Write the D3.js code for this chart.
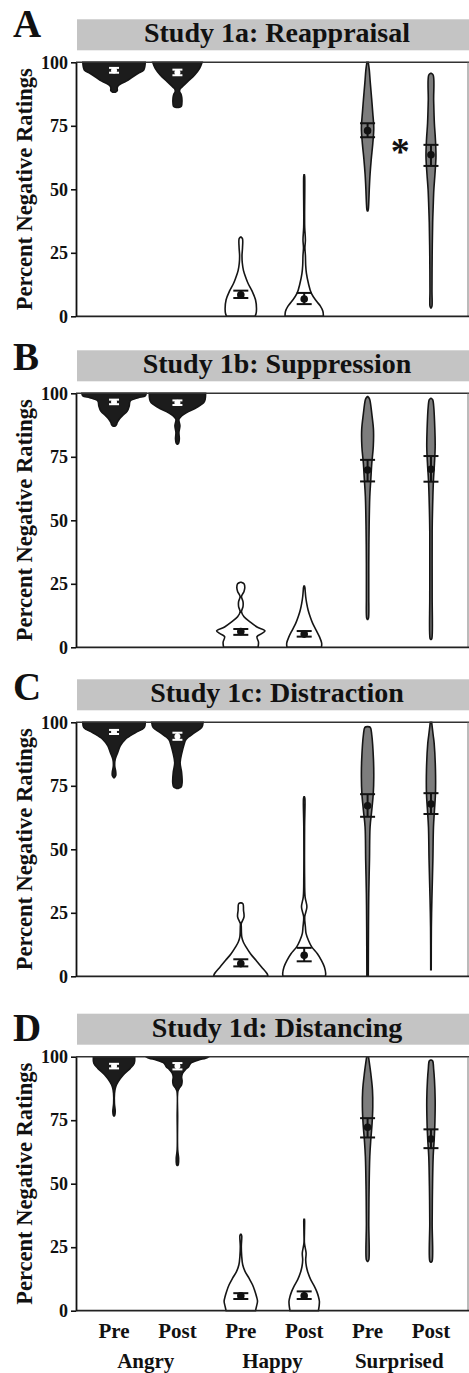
<!DOCTYPE html>
<html>
<head>
<meta charset="utf-8">
<script src="https://cdn.jsdelivr.net/npm/d3@7"></script>
<style>
  body { margin: 0; background: #fff; }
  svg { display: block; }
  text { font-family: "Liberation Serif", serif; font-weight: bold; fill: #111; }
</style>
</head>
<body>
<svg id="chart" width="469" height="1373"></svg>
<script>
const letters = ["A", "B", "C", "D"];
const titles = ["Study 1a: Reappraisal", "Study 1b: Suppression", "Study 1c: Distraction", "Study 1d: Distancing"];
const groups = ["Angry", "Happy", "Surprised"];
const times = ["Pre", "Post"];
const yTicks = [0, 25, 50, 75, 100];

// violin outlines: [percent, half width], top to bottom
// order: Angry Pre, Angry Post, Happy Pre, Happy Post, Surprised Pre, Surprised Post
const violinsA = [
  [[100,32],[97,30.5],[95.7,25],[94.4,20],[93,15],[91.7,8.5],[90.8,5],[90,4],[88.8,4],[88.2,2]],
  [[100,25.5],[97.6,23],[95,18],[92.4,11],[90.5,6],[89.5,3.5],[88.5,3],[87.3,4.5],[86,5.2],[83.5,5.2],[82.6,4.5],[82.2,2]],
  [[31.2,1.2],[30.5,2.5],[27,2.5],[24,2],[21,2.3],[18,3.5],[15,6],[13,8],[10,12],[6.5,15.5],[3,16.5],[1,16],[0,15]],
  [[55.7,0.8],[55,1.3],[40,1.2],[35,1.3],[30,2],[27,1.5],[24,2],[20,2.3],[17,3],[13,5],[9,8],[6,13],[4,17],[2,19.5],[0,20]],
  [[100,1.5],[97,2.5],[92,3.5],[86,4.8],[80,6],[74,7],[68,6],[62,4.5],[56,3.3],[50,2.5],[45,2],[42,1.5],[41.5,0.8]],
  [[95.7,1],[95,3],[85,3.5],[76,4.2],[70,5.2],[63,5.8],[56,4.8],[50,3.7],[43,3],[37,2.5],[24,2],[10,1.8],[4,1.8],[3.3,0.8]]
];
const violinsB = [
  [[100,33],[99,32],[98.3,25],[97,17],[95,16],[93,14],[91.1,9],[89.8,6],[88.5,4],[87.5,3],[87,1.5]],
  [[100,29],[97.5,28.5],[96.3,27],[94.4,20],[92.4,10],[91.1,5],[89.8,2.3],[87.2,3.3],[84.6,2.3],[82,2.7],[80.4,2],[80,1]],
  [[25.6,1.2],[25,4],[23.5,4.8],[22,4],[20,1.5],[18,3],[16,3],[14,1.5],[12,4],[10,10],[8,17],[6.5,25],[5.5,22],[4.2,17],[2,18.5],[0,18]],
  [[24.1,0.8],[23.5,1.5],[22.6,1.7],[19.9,2.3],[17.3,3.3],[14.7,4.7],[12.1,6.7],[9.4,9.3],[6.8,12.7],[4.2,16],[1.6,18.3],[0,18]],
  [[98.7,1],[98,2.5],[97,3.3],[92,5],[85.6,6.7],[79,6.5],[72.4,5],[65.9,4],[59.3,3],[46.2,2.3],[33,2],[20,2],[11.5,1.7],[11,0.8]],
  [[98,1],[97.5,2.5],[95,3.5],[85.6,4.7],[79,5],[72.4,4.3],[65.9,3.3],[59.3,2.7],[46,2],[20,2],[3.5,1.7],[3.1,0.8]]
];
const violinsC = [
  [[100,32],[97.9,31],[95.9,22],[93.3,12],[90.7,7],[88.1,4.5],[85.5,2],[82.8,1.5],[80.5,2.5],[79,2.5],[78.2,1.2]],
  [[100,26.5],[97.9,25],[95.9,18],[93.3,9.5],[90.7,7],[88.1,5.3],[84.1,3.5],[80.2,5],[76.3,5.5],[74.5,4.5],[74,2]],
  [[28.9,1.2],[28.5,3],[26,3.5],[23.4,4],[20.8,1.3],[19.4,1.3],[15.4,1.8],[13.5,3.3],[11.6,6],[8.9,10.5],[6.3,16],[3.7,21.5],[1.1,27],[0,28]],
  [[70.7,0.8],[70,1.5],[58.9,1.2],[39.2,1.2],[31.3,1.7],[27.3,3.5],[23.4,1.3],[19.4,2],[16.8,2.7],[14.2,5],[11.6,8.3],[8.9,14],[6.3,18],[3.7,21],[1.1,22.3],[0,22]],
  [[98.3,1],[98,3.5],[95,5],[85.2,6.7],[78.6,7],[72,6.5],[65.4,5],[58.8,3.3],[45.7,2.7],[32.5,2],[19.4,1.7],[0,1.5]],
  [[100,1.5],[95,3],[91.7,4],[81.2,5.3],[72,5.3],[65.4,4.3],[58.8,3.3],[45.7,2.7],[29.9,1.7],[19.4,1.2],[3,1],[2.6,0.5]]
];
const violinsD = [
  [[100,21.5],[97.4,21],[95.4,17],[92.8,10],[90.2,5],[88.2,2.5],[85.6,1.3],[81.7,1.2],[78.4,2],[77,1.5],[76.7,0.8]],
  [[100,32],[99.4,29],[98.7,22],[97.4,14],[96,12],[95,9],[93.5,6],[92,5],[90.5,5.5],[89,5],[87.8,3],[86.5,1.3],[76.5,1],[63.4,1],[60,2],[57.6,1.7],[57.2,0.8]],
  [[30.1,1],[29.5,1.7],[25.3,1.3],[21.4,1.7],[18.1,2.7],[15.5,5],[12.8,9],[10.2,12.5],[7.6,15],[5.6,16.5],[3.7,17.5],[1.7,16.5],[0,15.5]],
  [[36,0.8],[35.5,1.2],[30.5,1],[26.6,1],[22.7,2.7],[20,2.3],[17.4,3],[14.8,4.7],[12.2,7.3],[9.6,11],[7.6,13.3],[5.6,15],[3.7,16],[1.7,15.7],[0,15]],
  [[100,1.7],[93.4,4],[86.9,5.7],[80.3,6],[73.7,5.3],[67.2,4],[60.6,3],[47.6,2.3],[34.5,2],[20,2],[19.4,0.8]],
  [[98.7,1],[98.3,2.5],[95,3.5],[90.8,4.3],[83,5],[73.7,4.7],[67.2,4],[60.6,3],[47.6,2.3],[34.5,2],[19.6,2],[19.1,0.8]]
];

// means and confidence bounds, same order
const meansA  = [96.8, 96.0, 8.5, 6.8, 73.1, 63.6];
const ciHighA = [97.8, 97.1, 10.1, 9.2, 76.0, 67.5];
const ciLowA  = [95.9, 94.9, 7.2, 4.8, 70.5, 59.2];
const meansB  = [96.6, 96.3, 6.2, 5.2, 69.8, 70.1];
const ciHighB = [97.5, 97.2, 7.2, 6.4, 73.8, 75.3];
const ciLowB  = [95.7, 95.4, 4.9, 4.2, 65.3, 65.2];
const meansC  = [96.2, 94.4, 5.0, 8.3, 67.1, 67.8];
const ciHighC = [97.0, 95.9, 6.7, 11.2, 71.7, 72.1];
const ciLowC  = [95.4, 93.1, 3.9, 5.9, 62.8, 63.9];
const meansD  = [96.3, 96.3, 5.9, 5.9, 72.2, 67.6];
const ciHighD = [97.2, 97.5, 6.9, 7.6, 75.8, 71.4];
const ciLowD  = [95.4, 95.0, 4.6, 4.6, 68.2, 64.0];

// significance mark (panel A, between surprised pre and post)
const starPanel = 0;
const starValue = 66.8;

const panels = [
  {violins: violinsA, means: meansA, hi: ciHighA, lo: ciLowA},
  {violins: violinsB, means: meansB, hi: ciHighB, lo: ciLowB},
  {violins: violinsC, means: meansC, hi: ciHighC, lo: ciLowC},
  {violins: violinsD, means: meansD, hi: ciHighD, lo: ciLowD}
];

const plotTops = [62.3, 393.3, 722.3, 1056.7];
const letterDy = [-25.6, -23.5, -22.5, -16];
const plotH = 254;
const left = 76, right = 469;

const svg = d3.select("#chart");
const keys = d3.cross(groups, times, (g, t) => g + " " + t);
const x = d3.scalePoint().domain(keys).range([left, right]).padding(0.6);
// half widths were read at the outer edge of the outline, so pull them in by half a stroke
const w = d3.scaleLinear().domain([0, 35]).range([-0.8, 34.2]);
const hw = v => Math.max(0.25, w(v));

const fills = {Angry: "#1c1c1c", Happy: "#ffffff", Surprised: "#7d7d7d"};
const marks = {Angry: "#ffffff", Happy: "#111111", Surprised: "#111111"};

panels.forEach(function(p, i) {
  const top = plotTops[i];
  const y = d3.scaleLinear().domain([0, 100]).range([top + plotH, top]);
  const g = svg.append("g");

  // title bar
  g.append("rect")
    .attr("x", 77).attr("y", top - 43)
    .attr("width", right - 77).attr("height", 31)
    .attr("fill", "#c4c4c4");
  g.append("text")
    .attr("x", 277).attr("y", top - 20)
    .attr("text-anchor", "middle")
    .attr("font-size", 28)
    .text(titles[i]);
  g.append("text")
    .attr("x", 13).attr("y", top + letterDy[i])
    .attr("font-size", 39)
    .text(letters[i]);

  // violins
  keys.forEach(function(key, j) {
    const grp = key.split(" ")[0];
    const cx = x(key);
    const area = d3.area()
      .curve(d3.curveCatmullRom)
      .y(d => y(d[0]))
      .x0(d => cx - hw(d[1]))
      .x1(d => cx + hw(d[1]));
    g.append("path")
      .datum(p.violins[j])
      .attr("d", area)
      .attr("fill", fills[grp])
      .attr("stroke", "#151515")
      .attr("stroke-width", 1.6);
  });

  // means with intervals
  keys.forEach(function(key, j) {
    const grp = key.split(" ")[0];
    const cx = x(key);
    const col = marks[grp];
    const cap = grp == "Angry" ? 5 : 7.5;
    const eb = g.append("g").attr("stroke", col).attr("stroke-width", 2);
    eb.append("line").attr("x1", cx).attr("x2", cx).attr("y1", y(p.hi[j])).attr("y2", y(p.lo[j]));
    eb.append("line").attr("x1", cx - cap).attr("x2", cx + cap).attr("y1", y(p.hi[j])).attr("y2", y(p.hi[j]));
    eb.append("line").attr("x1", cx - cap).attr("x2", cx + cap).attr("y1", y(p.lo[j])).attr("y2", y(p.lo[j]));
    g.append("circle")
      .attr("cx", cx).attr("cy", y(p.means[j]))
      .attr("r", grp == "Angry" ? 3 : 3.8)
      .attr("fill", col);
  });

  // frame
  g.append("line").attr("x1", left).attr("x2", right).attr("y1", top).attr("y2", top)
    .attr("stroke", "#333").attr("stroke-width", 1.4);
  g.append("line").attr("x1", right - 1).attr("x2", right - 1).attr("y1", top).attr("y2", top + plotH)
    .attr("stroke", "#777").attr("stroke-width", 1);
  g.append("line").attr("x1", left).attr("x2", right).attr("y1", top + plotH).attr("y2", top + plotH)
    .attr("stroke", "#222").attr("stroke-width", 1.8);

  // y axis
  const ax = g.append("g")
    .attr("transform", "translate(" + left + ",0)")
    .call(d3.axisLeft(y).tickValues(yTicks).tickSize(5).tickPadding(3).tickSizeOuter(0));
  ax.attr("font-family", null).attr("font-size", 18).attr("color", "#111");
  ax.select(".domain").attr("stroke-width", 1.8);
  ax.selectAll(".tick line").attr("stroke-width", 1.6);

  g.append("text")
    .attr("transform", "translate(31.5," + (top + plotH / 2) + ") rotate(-90)")
    .attr("text-anchor", "middle")
    .attr("font-size", 22.5)
    .text("Percent Negative Ratings");

  if (i == starPanel) {
    g.append("text")
      .attr("x", (x("Surprised Pre") + x("Surprised Post")) / 2 + 1)
      .attr("y", y(starValue) + 17)
      .attr("text-anchor", "middle")
      .attr("font-size", 38)
      .text("*");
  }

  // category labels under the last panel
  if (i == panels.length - 1) {
    g.selectAll(".time")
      .data(keys)
      .enter().append("text")
      .attr("x", d => x(d))
      .attr("y", top + plotH + 27)
      .attr("text-anchor", "middle")
      .attr("font-size", 21)
      .text(d => d.split(" ")[1]);
    g.selectAll(".grp")
      .data(groups)
      .enter().append("text")
      .attr("x", d => (x(d + " Pre") + x(d + " Post")) / 2)
      .attr("y", top + plotH + 57)
      .attr("text-anchor", "middle")
      .attr("font-size", 21)
      .text(d => d);
  }
});
</script>
</body>
</html>
